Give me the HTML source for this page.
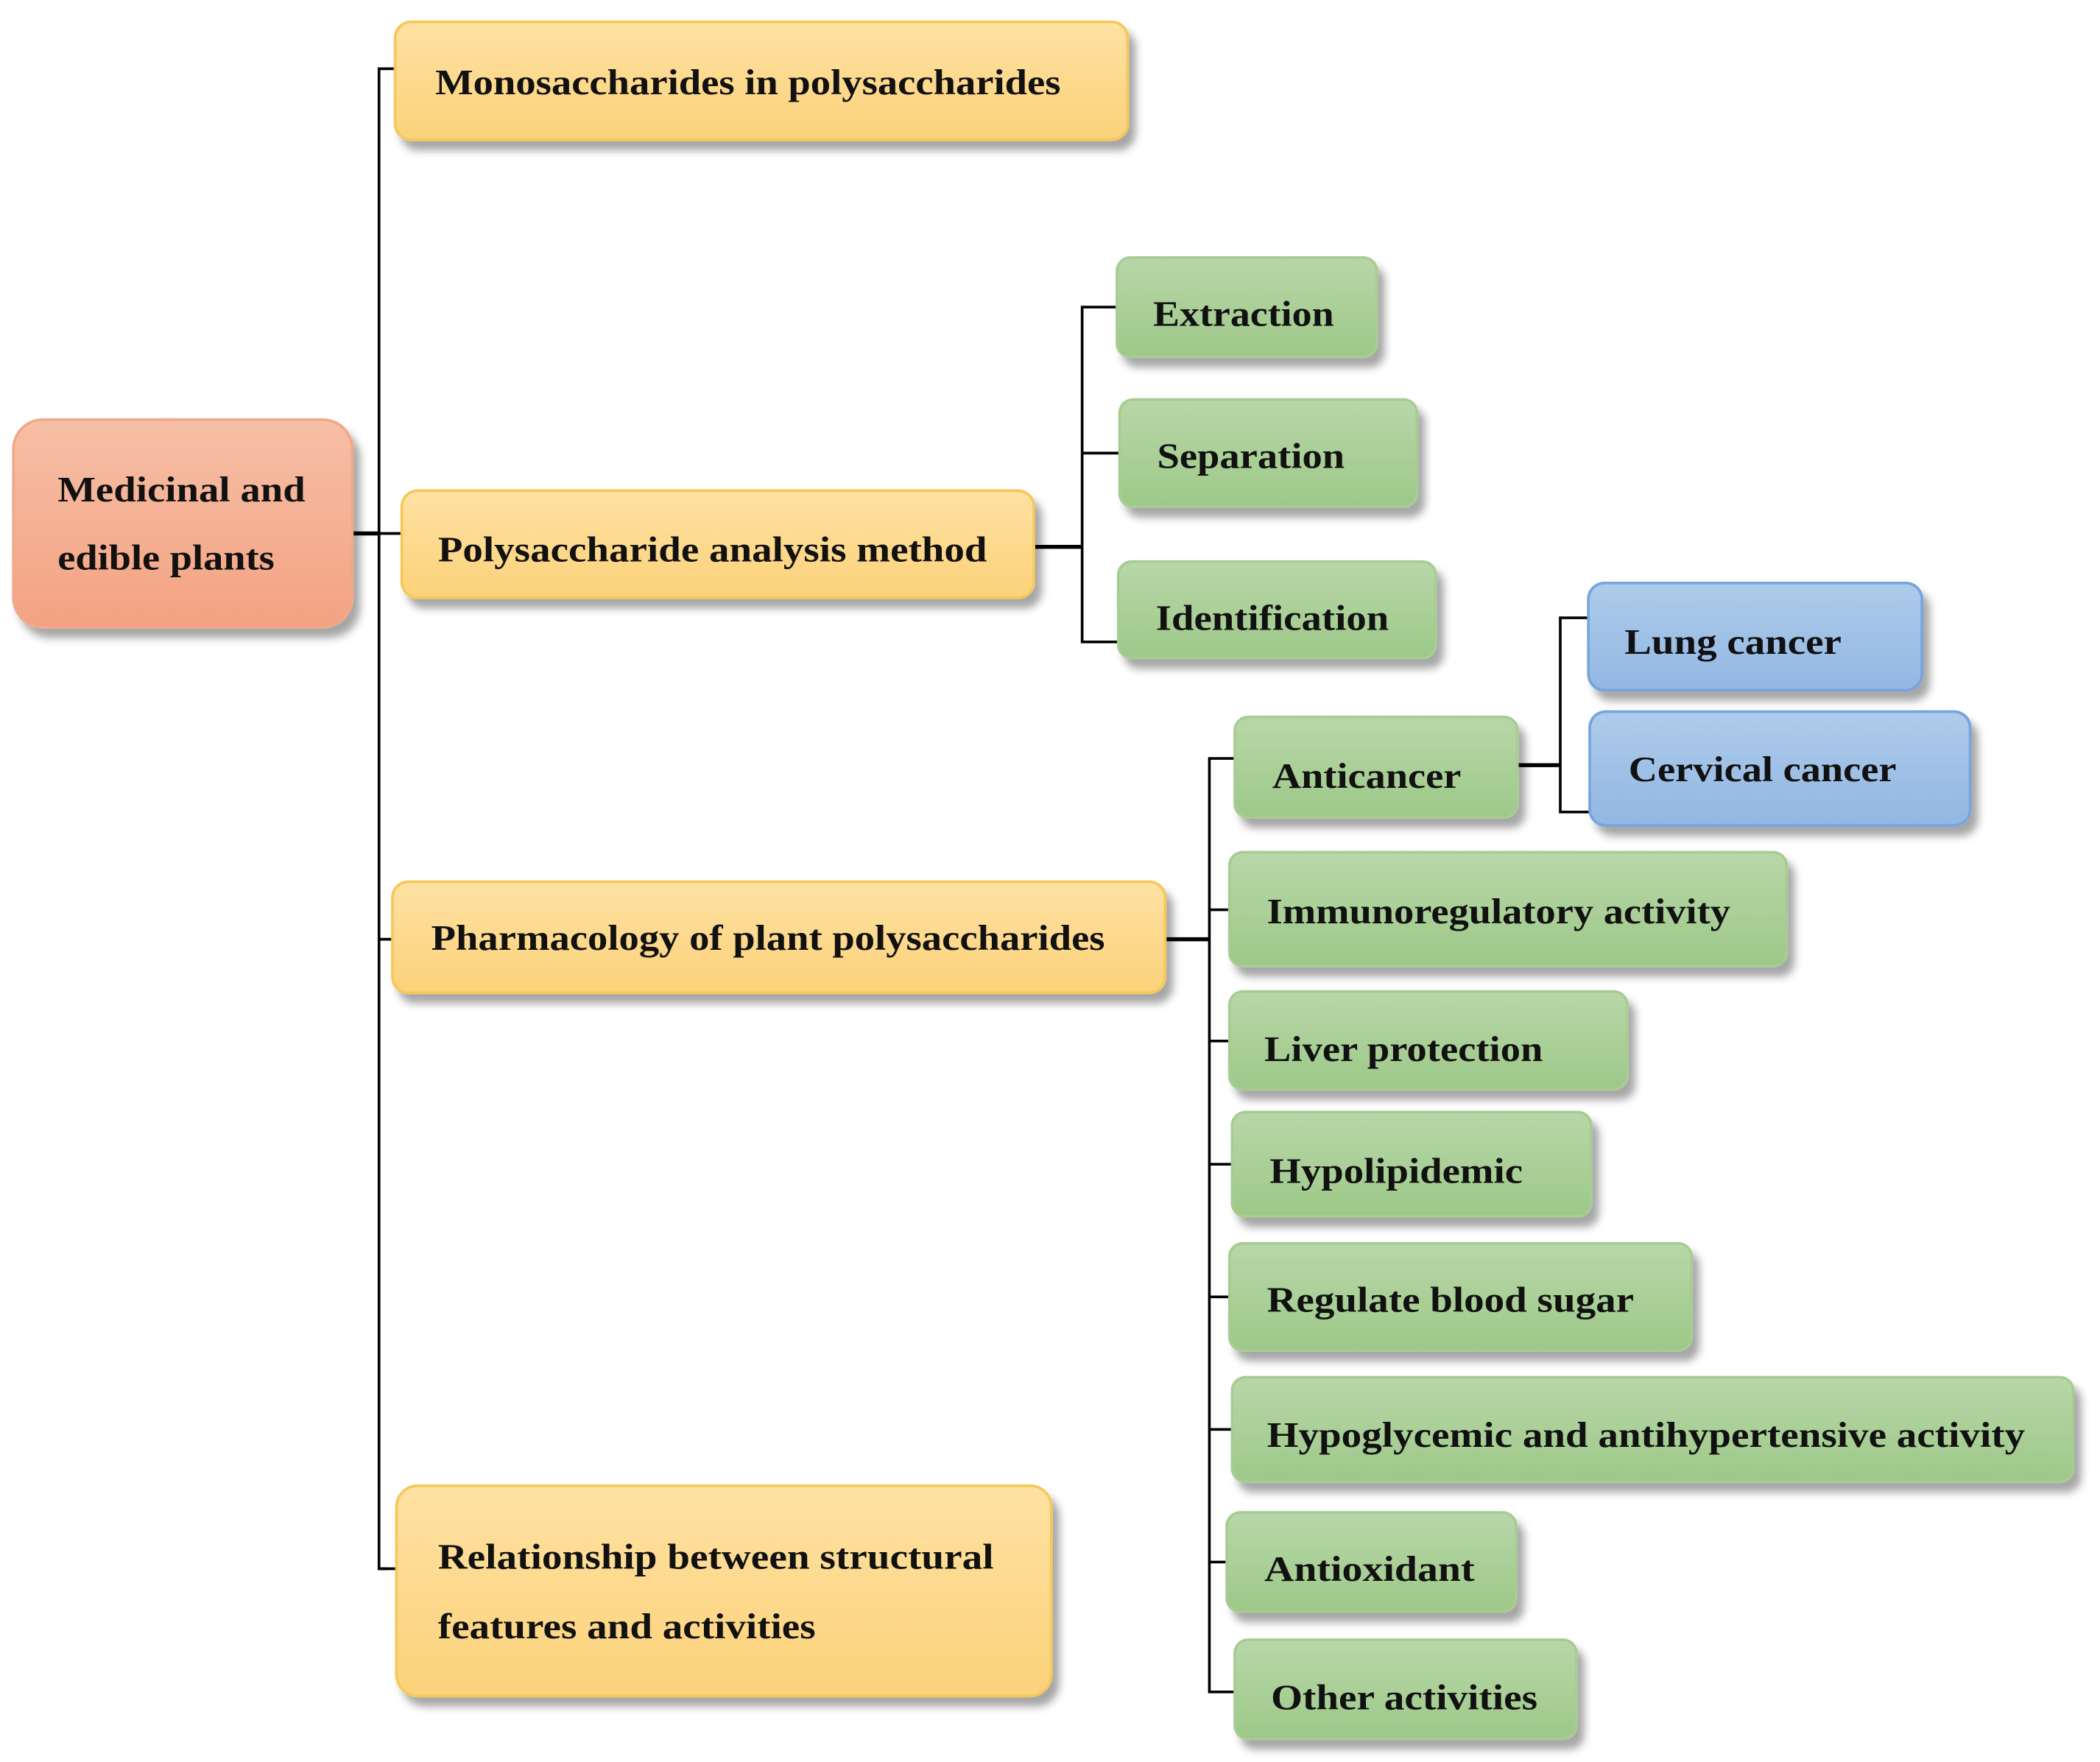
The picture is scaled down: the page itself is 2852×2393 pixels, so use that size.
<!DOCTYPE html>
<html><head><meta charset="utf-8"><style>html,body{margin:0;padding:0;background:#fff}svg{display:block}</style></head>
<body>
<svg width="2852" height="2393" viewBox="0 0 1568 1313" xmlns="http://www.w3.org/2000/svg" font-family="'Liberation Serif', serif" font-weight="bold" font-size="27">
<defs>
<filter id="sh" x="-10%" y="-10%" width="130%" height="150%"><feDropShadow dx="5" dy="7" stdDeviation="3" flood-color="#000" flood-opacity="0.35"/></filter>
<linearGradient id="go" x1="0" y1="0" x2="0" y2="1"><stop offset="0" stop-color="#fee1a2"/><stop offset="1" stop-color="#fcd27a"/></linearGradient>
<linearGradient id="gr" x1="0" y1="0" x2="0" y2="1"><stop offset="0" stop-color="#f6bfa6"/><stop offset="1" stop-color="#f3a282"/></linearGradient>
<linearGradient id="gg" x1="0" y1="0" x2="0" y2="1"><stop offset="0" stop-color="#b8d7a8"/><stop offset="1" stop-color="#9dc888"/></linearGradient>
<linearGradient id="gb" x1="0" y1="0" x2="0" y2="1"><stop offset="0" stop-color="#aecbea"/><stop offset="1" stop-color="#92b7e3"/></linearGradient>
</defs>
<g fill="none" stroke="#000" stroke-width="2">
<path d="M290 50 H283 V1170 H290"/><path d="M263 397 H283" stroke-width="3"/>
<path d="M283 397 H300 M283 700 H293 M283 1170 H296 M283 50 H295"/>
<path d="M772 407 H808" stroke-width="3"/><path d="M834 228 H808 V478 H835 M808 337 H836"/>
<path d="M870 700 H903" stroke-width="3"/><path d="M922 565 H903 V1262 H922 M903 678 H918 M903 776 H918 M903 868 H920 M903 967 H918 M903 1066 H920 M903 1165 H916"/>
<path d="M1133 570 H1165" stroke-width="3"/><path d="M1186 460 H1165 V605 H1187"/>
</g>
<g filter="url(#sh)" stroke-width="2">
<rect x="10" y="312" width="253" height="155" rx="22" fill="url(#gr)" stroke="#f0a888"/>
<rect x="295" y="15" width="547" height="88" rx="12" fill="url(#go)" stroke="#f5c85a"/>
<rect x="300" y="365" width="472" height="80" rx="12" fill="url(#go)" stroke="#f5c85a"/>
<rect x="293" y="657" width="577" height="83" rx="12" fill="url(#go)" stroke="#f5c85a"/>
<rect x="296" y="1108" width="489" height="157" rx="16" fill="url(#go)" stroke="#f5c85a"/>
<rect x="834" y="191" width="194" height="74" rx="10" fill="url(#gg)" stroke="#a6cc93"/>
<rect x="836" y="297" width="222" height="80" rx="10" fill="url(#gg)" stroke="#a6cc93"/>
<rect x="835" y="418" width="237" height="72" rx="10" fill="url(#gg)" stroke="#a6cc93"/>
<rect x="1186" y="434" width="249" height="80" rx="12" fill="url(#gb)" stroke="#74a5dc"/>
<rect x="1187" y="530" width="284" height="85" rx="12" fill="url(#gb)" stroke="#74a5dc"/>
<rect x="922" y="534" width="211" height="75" rx="10" fill="url(#gg)" stroke="#a6cc93"/>
<rect x="918" y="635" width="416" height="85" rx="10" fill="url(#gg)" stroke="#a6cc93"/>
<rect x="918" y="739" width="297" height="73" rx="10" fill="url(#gg)" stroke="#a6cc93"/>
<rect x="920" y="829" width="268" height="78" rx="10" fill="url(#gg)" stroke="#a6cc93"/>
<rect x="918" y="927" width="345" height="80" rx="10" fill="url(#gg)" stroke="#a6cc93"/>
<rect x="920" y="1027" width="628" height="78" rx="10" fill="url(#gg)" stroke="#a6cc93"/>
<rect x="916" y="1128" width="216" height="74" rx="10" fill="url(#gg)" stroke="#a6cc93"/>
<rect x="922" y="1223" width="255" height="74" rx="10" fill="url(#gg)" stroke="#a6cc93"/>
</g>
<g fill="#111" lengthAdjust="spacingAndGlyphs">
<text x="43" y="373" textLength="185" lengthAdjust="spacingAndGlyphs">Medicinal and</text>
<text x="43" y="424" textLength="162" lengthAdjust="spacingAndGlyphs">edible plants</text>
<text x="325" y="69" textLength="467" lengthAdjust="spacingAndGlyphs">Monosaccharides in polysaccharides</text>
<text x="327" y="418" textLength="410" lengthAdjust="spacingAndGlyphs">Polysaccharide analysis method</text>
<text x="322" y="708" textLength="503" lengthAdjust="spacingAndGlyphs">Pharmacology of plant polysaccharides</text>
<text x="327" y="1170" textLength="415" lengthAdjust="spacingAndGlyphs">Relationship between structural</text>
<text x="327" y="1222" textLength="282" lengthAdjust="spacingAndGlyphs">features and activities</text>
<text x="861" y="242" textLength="135" lengthAdjust="spacingAndGlyphs">Extraction</text>
<text x="864" y="348" textLength="140" lengthAdjust="spacingAndGlyphs">Separation</text>
<text x="863" y="469" textLength="174" lengthAdjust="spacingAndGlyphs">Identification</text>
<text x="1213" y="487" textLength="162" lengthAdjust="spacingAndGlyphs">Lung cancer</text>
<text x="1216" y="582" textLength="200" lengthAdjust="spacingAndGlyphs">Cervical cancer</text>
<text x="950" y="587" textLength="141" lengthAdjust="spacingAndGlyphs">Anticancer</text>
<text x="946" y="688" textLength="346" lengthAdjust="spacingAndGlyphs">Immunoregulatory activity</text>
<text x="944" y="791" textLength="208" lengthAdjust="spacingAndGlyphs">Liver protection</text>
<text x="948" y="882" textLength="189" lengthAdjust="spacingAndGlyphs">Hypolipidemic</text>
<text x="946" y="978" textLength="274" lengthAdjust="spacingAndGlyphs">Regulate blood sugar</text>
<text x="946" y="1079" textLength="566" lengthAdjust="spacingAndGlyphs">Hypoglycemic and antihypertensive activity</text>
<text x="944" y="1179" textLength="157" lengthAdjust="spacingAndGlyphs">Antioxidant</text>
<text x="949" y="1275" textLength="199" lengthAdjust="spacingAndGlyphs">Other activities</text>
</g>
</svg>
</body></html>
